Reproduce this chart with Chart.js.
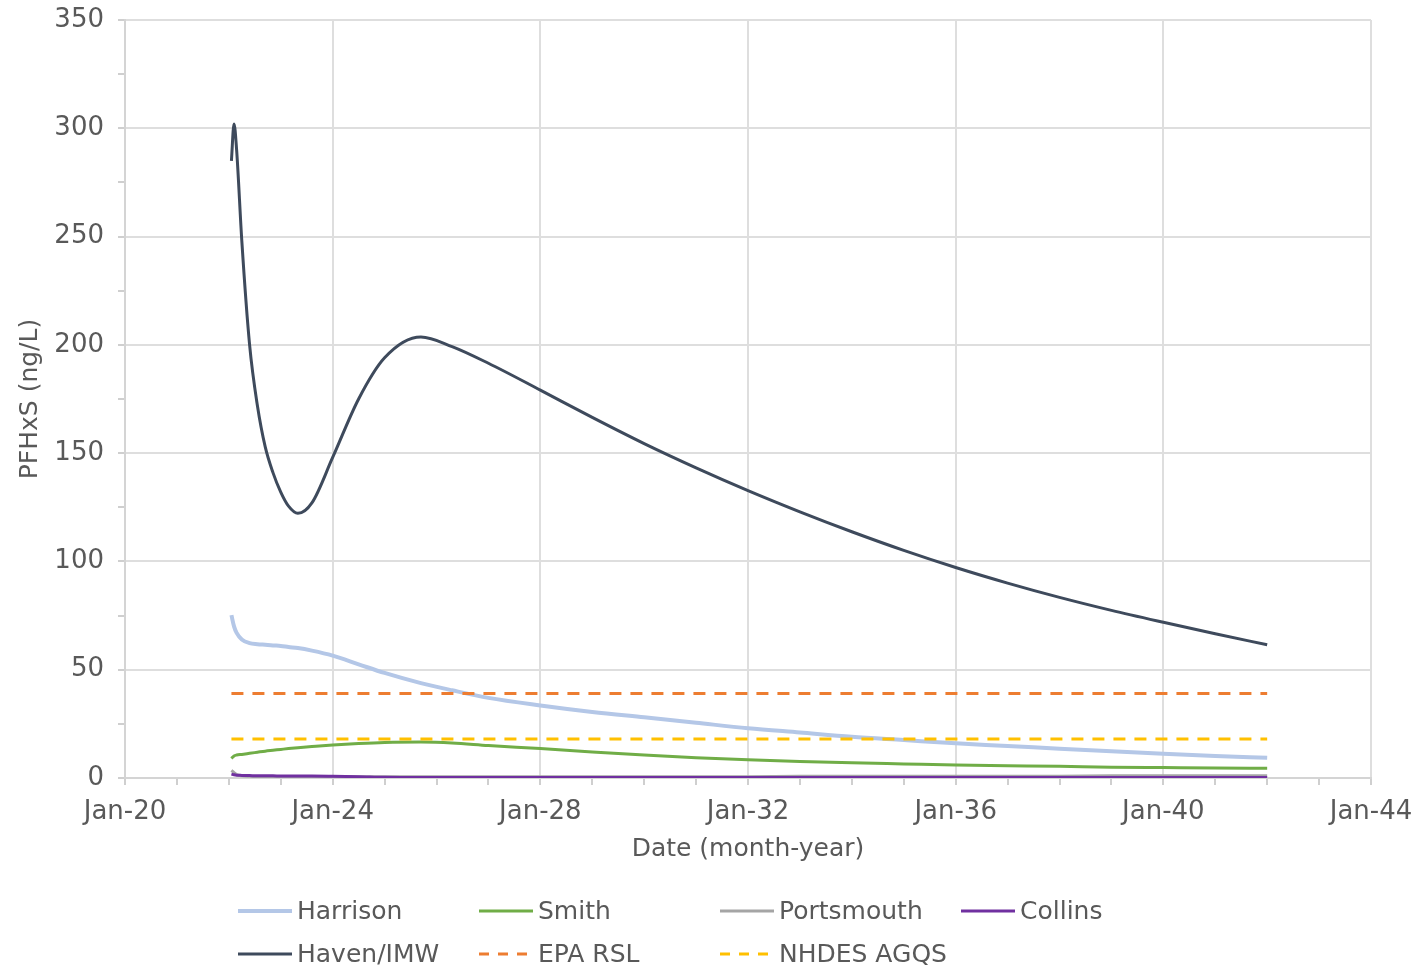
<!DOCTYPE html>
<html>
<head>
<meta charset="utf-8">
<script src="https://cdn.jsdelivr.net/npm/chart.js@4"></script>
<style>
    html, body { margin: 0; padding: 0; background: #fff; }
    .wrap { position: relative; width: 1417px; height: 966px; }
    .legend {
        position: absolute; left: 237px; top: 889px;
        display: grid; grid-template-columns: repeat(4, 241px); grid-auto-rows: 43px;
        font-family: "DejaVu Sans", sans-serif; font-size: 25px; color: #595959;
    }
    .legend .item { display: flex; align-items: center; white-space: nowrap; }
    .legend svg { margin-right: 4px; }
</style>
</head>
<body>
<div class="wrap">
    <canvas id="chart"></canvas>
    <div class="legend" id="legend"></div>
</div>
<script>
// sample dates as decimal years
const dates = [2022.05, 2022.1, 2022.15, 2022.25, 2022.4, 2022.55, 2022.7, 2022.85, 2023.0, 2023.15, 2023.33,
    2023.6, 2024.0, 2024.5, 2025.0, 2025.7, 2026.3,
    2027, 2028, 2029, 2030, 2031, 2032, 2033, 2034, 2035, 2036, 2037, 2038, 2039, 2040, 2041, 2042];

const harrison = [75.2, 70, 67, 64, 62.3, 61.8, 61.5, 61.2, 61, 60.5, 60,
    58.8, 56.5, 52.5, 48.5, 43.8, 40.5,
    37, 33.5, 30.5, 28, 25.5, 23, 21, 19, 17.5, 16, 14.8, 13.5, 12.3, 11.2, 10.2, 9.3];

const smith = [9.0, 10.2, 10.6, 10.9, 11.4, 11.9, 12.4, 12.8, 13.2, 13.6, 14.0,
    14.5, 15.2, 15.9, 16.4, 16.6, 16.2,
    15.0, 13.6, 12.0, 10.6, 9.4, 8.4, 7.6, 7.0, 6.5, 6.0, 5.7, 5.4, 5.0, 4.8, 4.6, 4.5];

const portsmouth = [3.5, 2.5, 1.6, 1.0, 0.8, 0.7, 0.7, 0.6, 0.6, 0.6, 0.6,
    0.6, 0.6, 0.6, 0.6, 0.6, 0.6,
    0.6, 0.6, 0.6, 0.6, 0.6, 0.6, 0.8, 0.8, 0.8, 0.8, 0.8, 0.8, 1.0, 1.0, 1.0, 1.0];

const collins = [1.8, 1.5, 1.3, 1.2, 1.1, 1.0, 1.0, 1.0, 0.9, 0.9, 0.9,
    0.9, 0.8, 0.6, 0.3, 0.2, 0.2,
    0.2, 0.2, 0.2, 0.2, 0.2, 0.2, 0.2, 0.2, 0.2, 0.2, 0.2, 0.2, 0.2, 0.2, 0.2, 0.2];

const haven = [285, 302, 290, 248, 200, 172, 153, 141, 132, 125.5, 122.2,
    127, 148, 175, 194, 203.6, 199.2,
    191.5, 179.1, 166.5, 154.4, 143.2, 132.7, 122.9, 113.7, 105.1, 97.2, 90.0, 83.4, 77.4, 71.9, 66.6, 61.5];

// screening levels
const limitDates = [2022.05, 2042];
const epaRsl = [39, 39];
const nhdesAgqs = [18, 18];

const textColor = '#595959';
const tickFont = { family: '"DejaVu Sans", sans-serif', size: 26 };
const titleFont = { family: '"DejaVu Sans", sans-serif', size: 25 };

const pts = (xs, ys) => xs.map((x, i) => ({ x: x, y: ys[i] }));

function series(label, xs, ys, color, width, dash) {
    return {
        label: label,
        data: pts(xs, ys),
        borderColor: color,
        backgroundColor: color,
        borderWidth: width,
        borderDash: dash || [],
        pointRadius: 0,
        cubicInterpolationMode: 'monotone',
        fill: false
    };
}

const datasets = [
    series('Harrison', dates, harrison, '#b4c7e7', 4),
    series('Smith', dates, smith, '#70ad47', 3),
    series('Portsmouth', dates, portsmouth, '#a5a5a5', 3),
    series('Collins', dates, collins, '#7030a0', 3),
    series('Haven/IMW', dates, haven, '#3e4a5c', 3),
    series('EPA RSL', limitDates, epaRsl, '#ed7d31', 3, [12, 9]),
    series('NHDES AGQS', limitDates, nhdesAgqs, '#ffc000', 3, [12, 9])
];
// later series on top, like the spreadsheet
datasets.forEach((ds, i) => { ds.order = datasets.length - i; });

const chart = new Chart(document.getElementById('chart'), {
    type: 'line',
    data: { datasets: datasets },
    options: {
        responsive: true,
        maintainAspectRatio: false,
        animation: false,
        layout: { padding: { left: 0, top: 20, right: 46, bottom: 100 } },
        plugins: { legend: { display: false }, tooltip: { enabled: false } },
        scales: {
            x: {
                type: 'linear',
                min: 2020,
                max: 2044,
                // fixed box, and no extra room for the end labels
                afterFit: (s) => { s.height = 88; s.paddingLeft = 0; s.paddingRight = 0; },
                ticks: {
                    stepSize: 1,
                    maxTicksLimit: 30,
                    autoSkip: false,
                    maxRotation: 0,
                    padding: 12,
                    color: textColor,
                    font: tickFont,
                    callback: (v) => v % 4 === 0 ? 'Jan-' + String(v % 100).padStart(2, '0') : ''
                },
                grid: {
                    color: (c) => c.tick && c.tick.value % 4 === 0 ? '#dedede' : 'rgba(0,0,0,0)',
                    tickColor: '#cfcfcf',
                    tickLength: 7,
                    lineWidth: 2
                },
                border: { color: '#d4d4d4', width: 2 },
                title: {
                    display: true,
                    text: 'Date (month-year)',
                    color: textColor,
                    font: titleFont,
                    padding: { top: 4, bottom: 2 }
                }
            },
            y: {
                min: 0,
                max: 350,
                afterFit: (s) => { s.width = 125; s.paddingTop = 0; s.paddingBottom = 0; },
                ticks: {
                    stepSize: 25,
                    maxTicksLimit: 20,
                    padding: 14,
                    color: textColor,
                    font: tickFont,
                    callback: (v) => v % 50 === 0 ? v : ''
                },
                grid: {
                    color: (c) => c.tick && c.tick.value % 50 === 0 ? '#dedede' : 'rgba(0,0,0,0)',
                    tickColor: '#cfcfcf',
                    tickLength: 7,
                    lineWidth: 2
                },
                border: { color: '#d4d4d4', width: 2 },
                title: {
                    display: true,
                    text: 'PFHxS (ng/L)',
                    color: textColor,
                    font: titleFont,
                    padding: { top: 15, bottom: 0 }
                }
            }
        }
    }
});

// html legend laid out in fixed columns like the original
const legend = document.getElementById('legend');
datasets.forEach(ds => {
    const dash = ds.borderDash.length ? `stroke-dasharray="${ds.borderDash[0] - 2} ${ds.borderDash[1]}"` : '';
    legend.innerHTML += `
        <div class="item">
            <svg width="56" height="8"><line x1="1" y1="4" x2="55" y2="4" stroke="${ds.borderColor}" stroke-width="${ds.borderWidth}" ${dash}/></svg>
            <span>${ds.label}</span>
        </div>`;
});
</script>
</body>
</html>
